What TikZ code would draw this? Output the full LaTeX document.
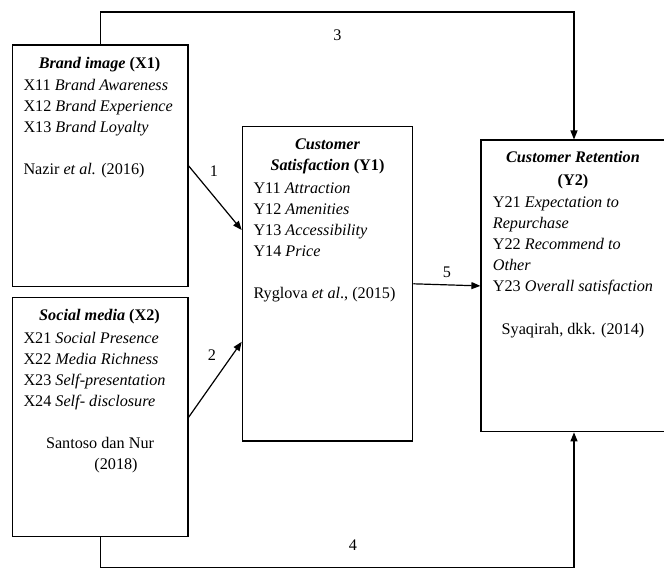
\documentclass[tikz,border=0pt]{standalone}
\usepackage{fontspec}
\setmainfont{Liberation Serif}
\usetikzlibrary{positioning,calc,arrows.meta}

\begin{document}
\begin{tikzpicture}[x=1pt, y=-1pt, font=\fontsize{16.2}{21}\selectfont]
        \tikzstyle{var}=[draw, line width=1.2pt, inner sep=0pt]
        \tikzstyle{txt}=[anchor=north west, align=left, inner sep=0pt]
        \tikzstyle{ttl}=[anchor=north, align=center, inner sep=0pt, font=\fontsize{16.2}{21}\selectfont\bfseries]
        \tikzstyle{src}=[anchor=north, align=center, inner sep=0pt]
        \tikzstyle{link}=[line width=1.2pt, -{Triangle[length=9pt,width=7pt]}]

        \useasboundingbox (0,0) rectangle (664,568);

        \node[var, minimum width=175.7pt, minimum height=241.7pt] (x1) at (100.2,165.9) {};
        \node[var, minimum width=175.7pt, minimum height=239pt]   (x2) at (100.2,417.2) {};
        \node[var, minimum width=170.4pt, minimum height=314.3pt] (y1) at (327.5,283.8) {};
        \node[var, minimum width=186pt,   minimum height=291.7pt] (y2) at (574,285.9) {};

        \node[ttl] (x1t) at (99.5,57.3) {\textit{Brand image} (X1)};
        \node[txt] (x1b) at (23.3,79.3) {X11 \textit{Brand Awareness}\\
                X12 \textit{Brand Experience}\\
                X13 \textit{Brand Loyalty}\\[21pt]
                Nazir \textit{et al.} (2016)};

        \node[ttl] (x2t) at (99.5,309.3) {\textit{Social media} (X2)};
        \node[txt] (x2b) at (23.3,332.3) {X21 \textit{Social Presence}\\
                X22 \textit{Media Richness}\\
                X23 \textit{Self-presentation}\\
                X24 \textit{Self- disclosure}};
        \node[src] (x2s) at (100,437.5) {Santoso dan Nur\\ \hspace*{32pt}(2018)};

        \node[ttl] (y1t) at (327.5,138.5) {\textit{Customer}\\ \textit{Satisfaction} (Y1)};
        \node[txt] (y1b) at (253.3,182.3) {Y11 \textit{Attraction}\\
                Y12 \textit{Amenities}\\
                Y13 \textit{Accessibility}\\
                Y14 \textit{Price}\\[21pt]
                Ryglova \textit{et al}., (2015)};

        \node[ttl] (y2t) at (573,151.5) {\textit{Customer Retention}\\[2pt] (Y2)};
        \node[txt] (y2b) at (492.7,196.3) {Y21 \textit{Expectation to}\\
                \textit{Repurchase}\\
                Y22 \textit{Recommend to}\\
                \textit{Other}\\
                Y23 \textit{Overall satisfaction}};
        \node[src] (y2s) at (573,323.3) {Syaqirah, dkk. (2014)};

        \draw[link] (x1.east) -- ([yshift=53.8pt]y1.west);
        \draw[link] (x2.east) -- ([yshift=-58pt]y1.west);
        \draw[link] (y1.east) -- (y2.west);
        \draw[link] (x1.north) -- ++(0,-32.5) -| (y2.north);
        \draw[link] (x2.south) -- ++(0,30) -| (y2.south);

        \node (n1) at (214,171) {1};
        \node (n2) at (212,355) {2};
        \node (n3) at (337.5,35) {3};
        \node (n4) at (353,545) {4};
        \node (n5) at (447,272) {5};

    \end{tikzpicture}
\end{document}
